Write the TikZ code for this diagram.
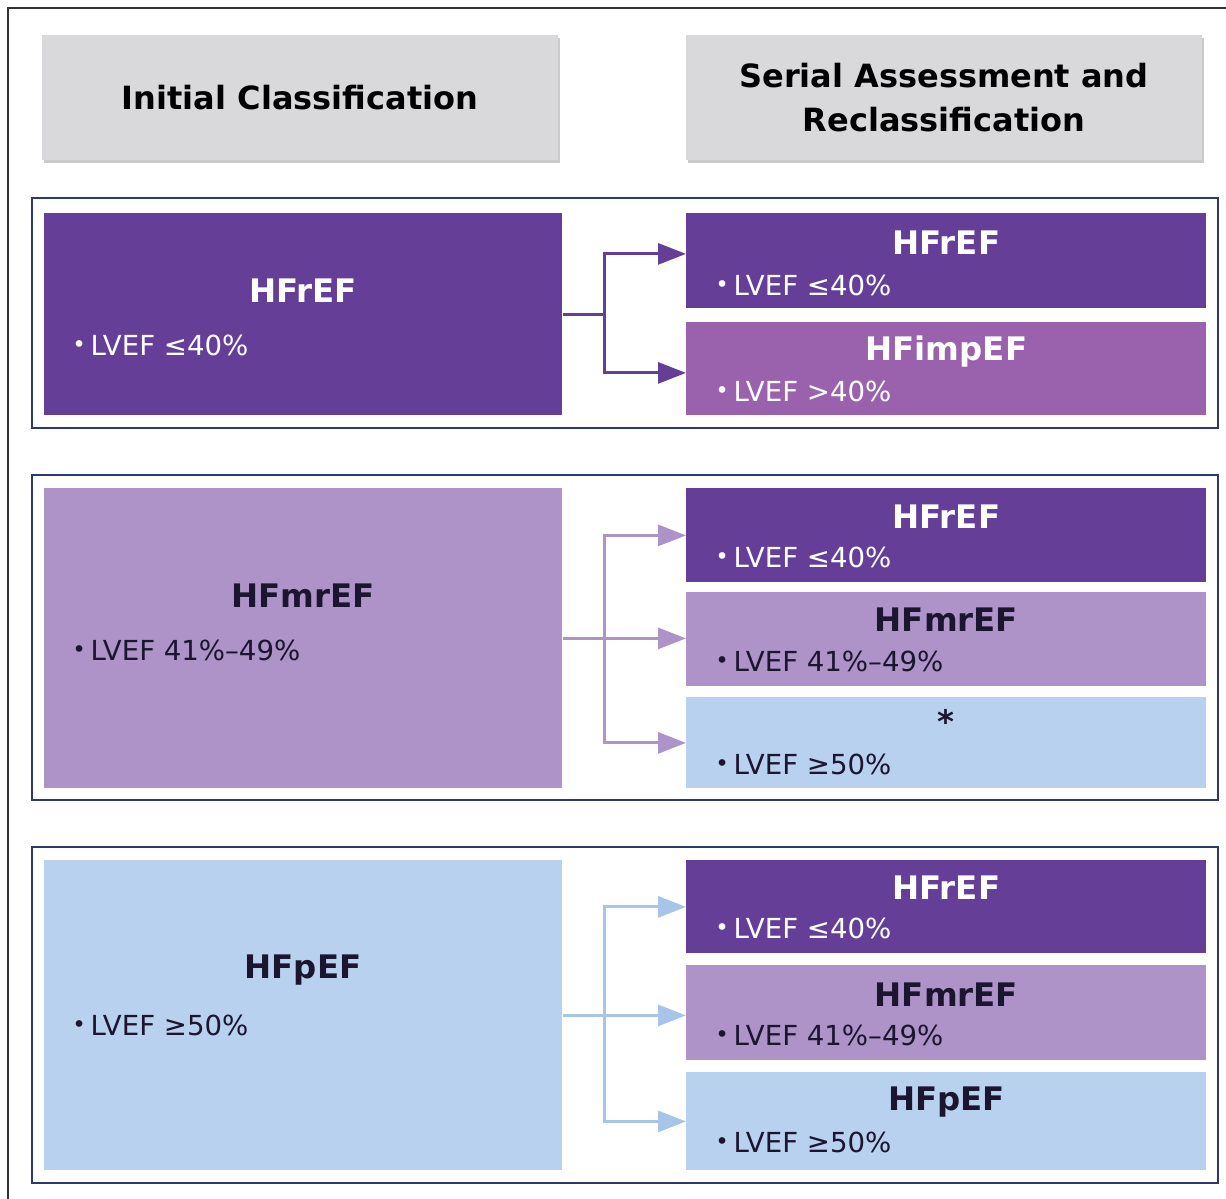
\documentclass[tikz,border=0pt]{standalone}
\usepackage{fontspec}
\setmainfont{DejaVu Sans}
\usetikzlibrary{arrows.meta,positioning,shadows}

\definecolor{rpurple}{HTML}{653E98}
\definecolor{imppurple}{HTML}{9A62AD}
\definecolor{mrlilac}{HTML}{AE93C8}
\definecolor{pblue}{HTML}{B8D1EE}
\definecolor{pbluearr}{HTML}{A7C5E8}
\definecolor{framenavy}{HTML}{2B3873}
\definecolor{headgray}{HTML}{D9D9DB}
\definecolor{darktext}{HTML}{1B1530}

% small bullet in front of the LVEF lines
\newcommand{\lvbul}{{\fontsize{11.5}{11}\selectfont\raisebox{0.2ex}{•}}\,}

\tikzset{
  headbox/.style={fill=headgray,inner sep=0pt,minimum width=258pt,minimum height=62.5pt,
    align=center,font=\bfseries\fontsize{16}{22}\selectfont,
    drop shadow={shadow xshift=1pt,shadow yshift=-1.5pt,fill=black!35,opacity=.6}},
  leftbox/.style={inner sep=0pt,anchor=north west,minimum width=259pt},
  rightbox/.style={inner sep=0pt,anchor=north west,minimum width=260pt},
  titletext/.style={font=\bfseries\fontsize{16.2}{19}\selectfont,inner sep=0pt},
  bullettext/.style={font=\fontsize{13.8}{17}\selectfont,inner sep=0pt,anchor=west},
  groupframe/.style={draw=framenavy,line width=1.3pt},
  conn/.style={line width=1.5pt,line cap=butt,line join=miter}
}

\begin{document}
\begin{tikzpicture}[x=0.5pt,y=-0.5pt,>={Triangle[length=14pt,width=10.5pt]}]
\useasboundingbox (0,0) rectangle (1226,1199);
% outer frame
\draw[line width=1pt,black!80] (8,8) rectangle (1240,1215);

% column headers
\node[headbox] (hinit) at (300,97.5) {Initial Classification};
\node[headbox] (hserial) at (944,97.5) {Serial Assessment and\\Reclassification};

% ---- HFrEF
\draw[groupframe] (32,198) rectangle (1218,428);
\node[leftbox,fill=rpurple,minimum height=101pt] (l1) at (44,213) {};
\node[titletext,white] (l1t) at (303,291) {HFrEF};
\node[bullettext,white] (l1b) at (72,345) {\lvbul LVEF ≤40\%};
\node[rightbox,fill=rpurple,minimum height=47.5pt] (r1a) at (686,213) {};
\node[rightbox,fill=imppurple,minimum height=46.5pt] (r1b) at (686,322) {};
\node[titletext,white] at ([yshift=-15pt]r1a.north) {HFrEF};
\node[bullettext,white] at ([xshift=14.5pt,yshift=-36pt]r1a.north west) {\lvbul LVEF ≤40\%};
\node[titletext,white] at ([yshift=-15pt]r1b.north) {HFimpEF};
\node[bullettext,white] at ([xshift=14.5pt,yshift=-34.5pt]r1b.north west) {\lvbul LVEF >40\%};
\draw[conn,rpurple] (l1.east) -- ++(21pt,0) coordinate (j1);
\draw[conn,rpurple,->] (j1) |- ([yshift=3.5pt]r1a.west);
\draw[conn,rpurple,->] (j1) |- ([yshift=-2pt]r1b.west);

% ---- HFmrEF
\draw[groupframe] (32,475) rectangle (1218,800);
\node[leftbox,fill=mrlilac,minimum height=150pt] (l2) at (44,488) {};
\node[titletext,darktext] (l2t) at (303,596) {HFmrEF};
\node[bullettext,darktext] (l2b) at (72,650) {\lvbul LVEF 41\%–49\%};
\node[rightbox,fill=rpurple,minimum height=47pt] (r2a) at (686,488) {};
\node[rightbox,fill=mrlilac,minimum height=47pt] (r2b) at (686,592) {};
\node[rightbox,fill=pblue,minimum height=45.5pt] (r2c) at (686,697) {};
\node[titletext,white] at ([yshift=-14.5pt]r2a.north) {HFrEF};
\node[bullettext,white] at ([xshift=14.5pt,yshift=-34.5pt]r2a.north west) {\lvbul LVEF ≤40\%};
\node[titletext,darktext] at ([yshift=-14pt]r2b.north) {HFmrEF};
\node[bullettext,darktext] at ([xshift=14.5pt,yshift=-34.5pt]r2b.north west) {\lvbul LVEF 41\%–49\%};
\node[titletext,darktext] at ([yshift=-12pt]r2c.north) {*};
\node[bullettext,darktext] at ([xshift=14.5pt,yshift=-33.5pt]r2c.north west) {\lvbul LVEF ≥50\%};
\draw[conn,mrlilac] (l2.east) -- ++(21pt,0) coordinate (j2);
\draw[conn,mrlilac,->] (j2) |- (r2a.west);
\draw[conn,mrlilac,->] (j2) -- (j2 -| r2b.west);
\draw[conn,mrlilac,->] (j2) |- (r2c.west);

% ---- HFpEF
\draw[groupframe] (32,847) rectangle (1218,1183);
\node[leftbox,fill=pblue,minimum height=155pt] (l3) at (44,860) {};
\node[titletext,darktext] (l3t) at (303,970) {HFpEF};
\node[bullettext,darktext] (l3b) at (72,1025) {\lvbul LVEF ≥50\%};
\node[rightbox,fill=rpurple,minimum height=46.5pt] (r3a) at (686,860) {};
\node[rightbox,fill=mrlilac,minimum height=47.5pt] (r3b) at (686,965) {};
\node[rightbox,fill=pblue,minimum height=49pt] (r3c) at (686,1072) {};
\node[titletext,white] at ([yshift=-14pt]r3a.north) {HFrEF};
\node[bullettext,white] at ([xshift=14.5pt,yshift=-34pt]r3a.north west) {\lvbul LVEF ≤40\%};
\node[titletext,darktext] at ([yshift=-15pt]r3b.north) {HFmrEF};
\node[bullettext,darktext] at ([xshift=14.5pt,yshift=-35pt]r3b.north west) {\lvbul LVEF 41\%–49\%};
\node[titletext,darktext] at ([yshift=-15pt]r3c.north) {HFpEF};
\node[bullettext,darktext] at ([xshift=14.5pt,yshift=-35pt]r3c.north west) {\lvbul LVEF ≥50\%};
\draw[conn,pbluearr] (l3.east) -- ++(21pt,0) coordinate (j3);
\draw[conn,pbluearr,->] (j3) |- (r3a.west);
\draw[conn,pbluearr,->] (j3) -- (j3 -| r3b.west);
\draw[conn,pbluearr,->] (j3) |- (r3c.west);
\end{tikzpicture}
\end{document}
